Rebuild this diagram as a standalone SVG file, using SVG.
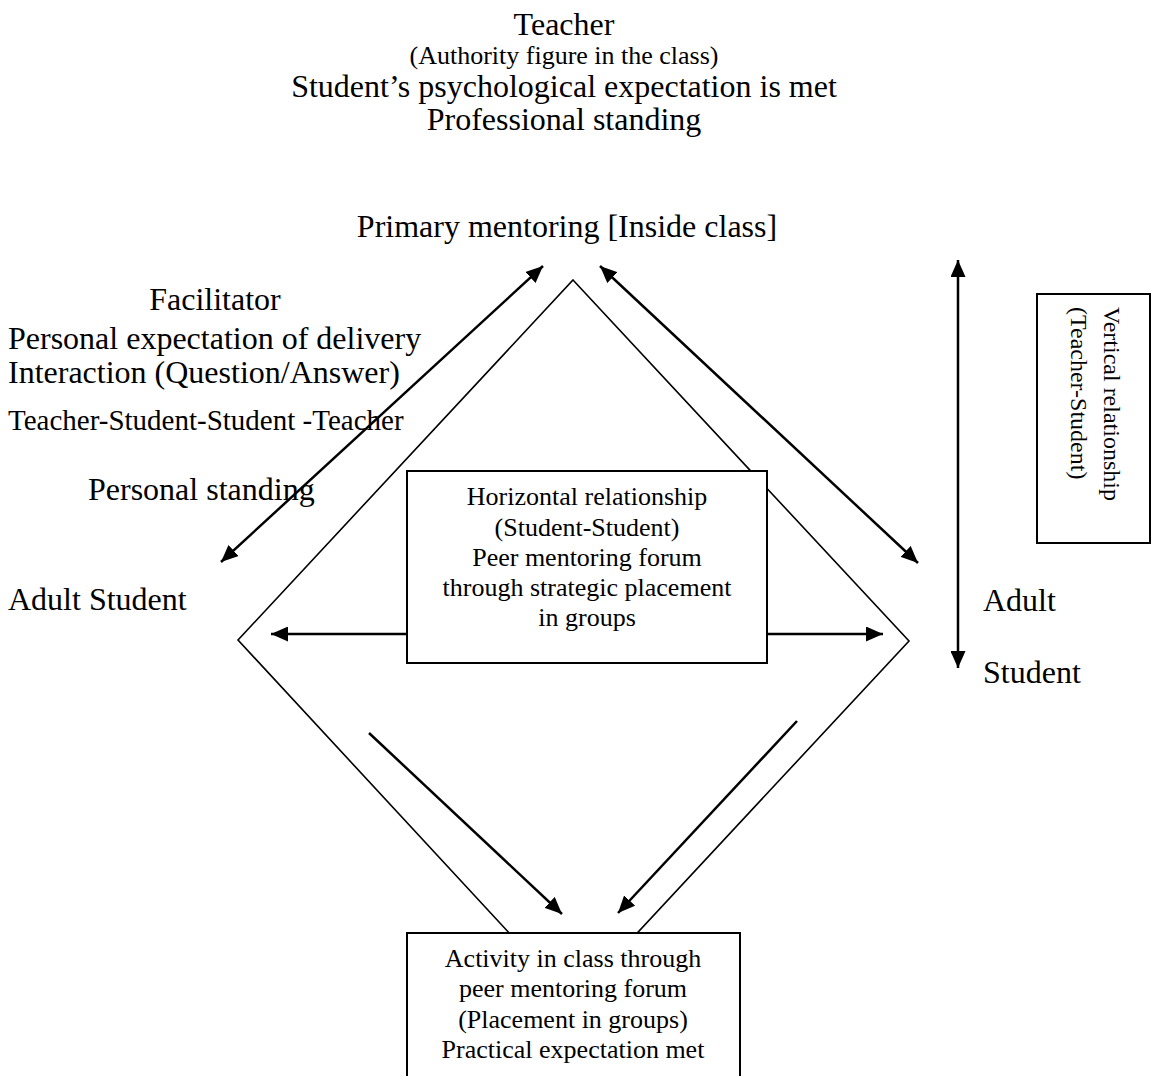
<svg xmlns="http://www.w3.org/2000/svg" width="1152" height="1076" viewBox="0 0 1152 1076">
  <style>
    text { font-family: "Liberation Serif", "Times New Roman", serif; fill: #000; }
    .big { font-size: 32px; }
    .mid { font-size: 26px; }
    .c { text-anchor: middle; }
    .box { fill: #fff; stroke: #000; stroke-width: 2; }
    .diam { fill: none; stroke: #000; stroke-width: 1.6; }
    .arr { fill: none; stroke: #000; stroke-width: 2.5; }
  </style>
  <defs>
    <marker id="ah" markerUnits="userSpaceOnUse" markerWidth="18" markerHeight="15" refX="17" refY="7.5" orient="auto-start-reverse">
      <path d="M0,0 L17,7.5 L0,15 z" fill="#000"/>
    </marker>
  </defs>
  <rect width="1152" height="1076" fill="#fff"/>

  <g id="diamond">
    <polygon class="diam" points="573,280 909,641 573,1002 238,640"/>
  </g>

  <g id="teacher">
    <text class="big c" x="564" y="35">Teacher</text>
    <text class="mid c" x="564" y="64">(Authority figure in the class)</text>
    <text class="big c" x="564" y="97">Student’s psychological expectation is met</text>
    <text class="big c" x="564" y="130">Professional standing</text>
    <text class="big c" x="567" y="237">Primary mentoring [Inside class]</text>
  </g>

  <g id="facilitator">
    <text class="big c" x="215" y="310">Facilitator</text>
    <text class="big" x="8" y="349">Personal expectation of delivery</text>
    <text class="big" x="8" y="383">Interaction (Question/Answer)</text>
    <text x="8" y="430" font-size="29">Teacher-Student-Student -Teacher</text>
    <text class="big" x="88" y="500">Personal standing</text>
  </g>

  <g id="adult-student-left">
    <text class="big" x="8" y="610">Adult Student</text>
  </g>

  <g id="adult-student-right">
    <text class="big" x="983" y="611">Adult</text>
    <text class="big" x="983" y="683">Student</text>
  </g>

  <g id="horizontal">
    <rect class="box" x="407" y="471" width="360" height="192"/>
    <text class="mid c" x="587" y="505">Horizontal relationship</text>
    <text class="mid c" x="587" y="536">(Student-Student)</text>
    <text class="mid c" x="587" y="566">Peer mentoring forum</text>
    <text class="mid c" x="587" y="596">through strategic placement</text>
    <text class="mid c" x="587" y="626">in groups</text>
  </g>

  <g id="vertical">
    <rect class="box" x="1037" y="294" width="113" height="249"/>
    <text font-size="24" transform="translate(1104,307) rotate(90)">Vertical relationship</text>
    <text font-size="24" transform="translate(1071,307) rotate(90)">(Teacher-Student)</text>
  </g>

  <g id="activity">
    <rect class="box" x="407" y="933" width="333" height="160"/>
    <text class="mid c" x="573" y="967">Activity in class through</text>
    <text class="mid c" x="573" y="997">peer mentoring forum</text>
    <text class="mid c" x="573" y="1028">(Placement in groups)</text>
    <text class="mid c" x="573" y="1058">Practical expectation met</text>
  </g>

  <g id="connectors">
    <line class="arr" x1="221" y1="562" x2="543" y2="266" marker-start="url(#ah)" marker-end="url(#ah)"/>
    <line class="arr" x1="600" y1="266" x2="918" y2="563" marker-start="url(#ah)" marker-end="url(#ah)"/>
    <line class="arr" x1="958" y1="260" x2="958" y2="668" marker-start="url(#ah)" marker-end="url(#ah)"/>
    <line class="arr" x1="407" y1="634" x2="271" y2="634" marker-end="url(#ah)"/>
    <line class="arr" x1="767" y1="634" x2="883" y2="634" marker-end="url(#ah)"/>
    <line class="arr" x1="369" y1="733" x2="562" y2="914" marker-end="url(#ah)"/>
    <line class="arr" x1="797" y1="721" x2="618" y2="913" marker-end="url(#ah)"/>
  </g>
</svg>
